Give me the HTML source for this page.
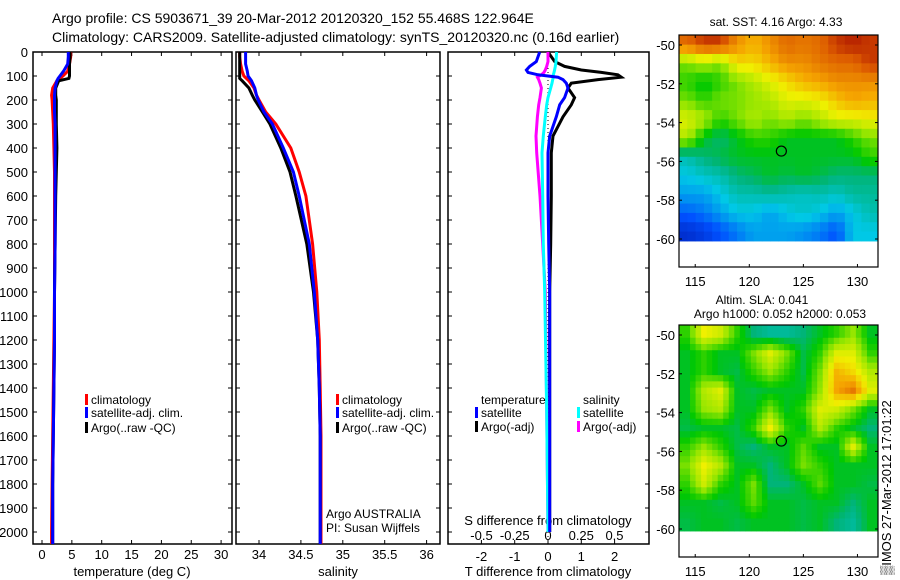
<!DOCTYPE html>
<html><head><meta charset="utf-8"><style>
body{margin:0;background:#fff;}
svg{display:block;font-family:"Liberation Sans",sans-serif;}
text{font-size:13px;fill:#000;}
</style></head><body>
<svg id="fig" width="900" height="580" viewBox="0 0 900 580" xmlns="http://www.w3.org/2000/svg">
<rect width="900" height="580" fill="#fff"/>
<text x="52" y="23" style="font-size:14px">Argo profile: CS 5903671_39 20-Mar-2012 20120320_152 55.468S 122.964E</text>
<text x="52" y="42" style="font-size:14px">Climatology: CARS2009. Satellite-adjusted climatology: synTS_20120320.nc (0.16d earlier)</text>
<g id="p1"></g>
<g id="p2"></g>
<g id="p3"></g>
<g id="m1"></g>
<g id="m2"></g>
<text transform="translate(891,575) rotate(-90)" style="font-size:13px">▒IMOS 27-Mar-2012 17:01:22</text>
</svg>
<script>
// ---- data ----
const depths=[0,20,50,80,100,110,120,150,180,200,250,300,400,500,600,800,1000,1200,1400,1600,1800,2000,2050];
const tClim=[4.8,4.8,4.6,4.3,3.5,3.0,2.5,1.8,1.6,1.7,1.8,1.9,2.0,2.1,2.1,2.1,2.1,2.0,1.9,1.8,1.7,1.6,1.6];
const tSat=[4.4,4.4,4.3,3.6,3.0,2.7,2.5,2.2,2.1,2.1,2.1,2.2,2.2,2.2,2.2,2.2,2.1,2.1,2.0,1.9,1.8,1.8,1.8];
const tArgo=[4.7,4.7,4.6,4.6,4.6,4.5,2.8,2.3,2.3,2.4,2.4,2.4,2.5,2.4,2.3,2.2,2.1,2.1,2.0,1.9,1.8,1.8,1.8];
const sClim=[33.77,33.77,33.78,33.8,33.82,33.85,33.88,33.94,33.97,34.0,34.08,34.2,34.38,34.48,34.56,34.64,34.69,34.72,34.73,34.74,34.74,34.74,34.74];
const sSat=[33.84,33.84,33.84,33.86,33.87,33.89,33.91,33.95,33.97,33.99,34.06,34.16,34.29,34.41,34.48,34.6,34.66,34.7,34.72,34.73,34.73,34.73,34.73];
const sArgo=[33.77,33.77,33.77,33.77,33.77,33.77,33.8,33.88,33.92,33.95,34.04,34.13,34.26,34.37,34.44,34.57,34.65,34.7,34.72,34.73,34.73,34.73,34.73];
const diffDepths=[0,40,60,75,85,95,105,115,130,150,190,220,270,350,420,600,800,1000,1500,2000];
const dTArgo=[0,0.2,0.5,1.0,1.6,2.1,2.2,1.5,0.7,0.6,0.8,0.7,0.45,0.15,0.1,0.1,0.08,0.05,0.05,0.05];
const dTSat=[-0.25,-0.35,-0.55,-0.65,-0.6,-0.3,0.3,0.45,0.55,0.6,0.5,0.35,0.25,0.05,0,0,0.02,0.05,0.05,0.05];
const dSSat=[0.065,0.06,0.055,0.05,0.045,0.04,0.04,0.035,0.03,0.02,0.0,-0.01,-0.02,-0.035,-0.045,-0.04,-0.035,-0.025,-0.01,0.0];
const dSArgo=[0,0,-0.01,-0.02,-0.03,-0.05,-0.08,-0.07,-0.06,-0.05,-0.06,-0.07,-0.08,-0.09,-0.085,-0.06,-0.04,-0.02,-0.01,0];
const depthTicks=[0,100,200,300,400,500,600,700,800,900,1000,1100,1200,1300,1400,1500,1600,1700,1800,1900,2000];
const tTicks=[0,5,10,15,20,25,30];
const sTicks=[34,34.5,35,35.5,36];
const sTickLabels=["34","34.5","35","35.5","36"];
const dTTicks=[-2,-1,0,1,2];
const dSTicks=[-0.5,-0.25,0,0.25,0.5];
const dSTickLabels=["-0.5","-0.25","0","0.25","0.5"];
const lonTicks=[115,120,125,130];
const latTicks=[-50,-52,-54,-56,-58,-60];
const sstGrid=[
[0.9,0.95,0.95,0.85,0.8,0.85,0.9,0.88,0.9,0.95,0.97,0.95],
[0.6,0.65,0.6,0.75,0.75,0.8,0.85,0.85,0.88,0.9,0.9,0.95],
[0.55,0.5,0.55,0.6,0.65,0.7,0.75,0.8,0.82,0.85,0.85,0.85],
[0.6,0.55,0.6,0.6,0.62,0.65,0.7,0.7,0.72,0.78,0.82,0.8],
[0.7,0.65,0.55,0.6,0.65,0.6,0.65,0.6,0.65,0.7,0.7,0.72],
[0.65,0.5,0.45,0.5,0.55,0.55,0.5,0.5,0.5,0.5,0.55,0.6],
[0.4,0.45,0.48,0.5,0.5,0.5,0.5,0.5,0.5,0.5,0.5,0.55],
[0.35,0.38,0.4,0.45,0.47,0.5,0.48,0.5,0.48,0.45,0.45,0.45],
[0.3,0.3,0.35,0.4,0.4,0.42,0.4,0.38,0.4,0.38,0.42,0.42],
[0.22,0.25,0.3,0.35,0.35,0.3,0.35,0.38,0.35,0.3,0.35,0.4],
[0.12,0.15,0.2,0.25,0.3,0.3,0.3,0.28,0.25,0.2,0.35,0.35]];
const slaGrid=[
[0.55,0.72,0.68,0.55,0.45,0.42,0.42,0.45,0.5,0.55,0.62,0.5],
[0.5,0.55,0.5,0.5,0.6,0.7,0.6,0.48,0.55,0.7,0.7,0.55],
[0.5,0.55,0.5,0.48,0.55,0.62,0.55,0.48,0.6,0.8,0.75,0.65],
[0.5,0.65,0.7,0.5,0.48,0.5,0.5,0.5,0.62,0.82,0.88,0.7],
[0.5,0.62,0.65,0.5,0.5,0.6,0.5,0.55,0.7,0.68,0.6,0.5],
[0.48,0.5,0.5,0.48,0.55,0.72,0.55,0.5,0.65,0.55,0.5,0.45],
[0.55,0.62,0.55,0.48,0.45,0.5,0.5,0.58,0.5,0.5,0.7,0.5],
[0.6,0.72,0.65,0.5,0.5,0.45,0.5,0.6,0.55,0.5,0.5,0.5],
[0.55,0.68,0.55,0.5,0.6,0.45,0.45,0.5,0.58,0.5,0.5,0.48],
[0.5,0.5,0.48,0.5,0.58,0.5,0.5,0.48,0.5,0.5,0.45,0.5],
[0.48,0.5,0.5,0.48,0.5,0.5,0.5,0.48,0.5,0.45,0.42,0.5]];
const argoLon=122.964, argoLat=-55.468;

const NS="http://www.w3.org/2000/svg";
function el(parent,tag,attrs,txt){const e=document.createElementNS(NS,tag);for(const k in attrs)e.setAttribute(k,attrs[k]);if(txt!==undefined)e.textContent=txt;parent.appendChild(e);return e;}
const yD=d=>52+0.24*d;
const xT=t=>42+5.97*t;
const xS=s=>259+83.8*(s-34);
const xdT=t=>548+33.3*t;
const xdS=s=>548+133*s;
const TOP=52,BOT=544;

function frame(g,x0,x1,name){
  const r=el(g,'rect',{x:x0,y:TOP,width:x1-x0,height:BOT-TOP,fill:'none',stroke:'#000','stroke-width':1.5});
  
  depthTicks.forEach(d=>{el(g,'line',{x1:x0,x2:x0+4,y1:yD(d),y2:yD(d),stroke:'#000'});el(g,'line',{x1:x1-4,x2:x1,y1:yD(d),y2:yD(d),stroke:'#000'});});
}
function line(g,xs,ys,xf,color,name,w){
  const p=xs.map((v,i)=>xf(v).toFixed(1)+','+yD(ys[i]).toFixed(1)).join(' ');
  const e=el(g,'polyline',{points:p,fill:'none',stroke:color,'stroke-width':w||3});
  
}
function legend(g,x,y,color,label,name){
  el(g,'rect',{x:x-6,y:y-10,width:3,height:11,fill:color});
  const t=el(g,'text',{x:x,y:y,style:'font-size:12px'},label);
  
}
// Panel 1
const p1=document.getElementById('p1');
frame(p1,33,232,'temperature-panel');
depthTicks.forEach(d=>{const t=el(p1,'text',{x:28,y:yD(d)+5,'text-anchor':'end'},String(d));});
tTicks.forEach(v=>{el(p1,'line',{x1:xT(v),x2:xT(v),y1:TOP,y2:TOP+4,stroke:'#000'});el(p1,'line',{x1:xT(v),x2:xT(v),y1:BOT-4,y2:BOT,stroke:'#000'});const t=el(p1,'text',{x:xT(v),y:559,'text-anchor':'middle'},String(v));});
el(p1,'text',{x:132,y:576,'text-anchor':'middle',},'temperature (deg C)');
line(p1,tClim,depths,xT,'#f00','temperature-climatology-line');
line(p1,tArgo,depths,xT,'#000','temperature-argo-line');
line(p1,tSat,depths,xT,'#00f','temperature-satellite-line');
legend(p1,91,404,'#f00','climatology','legend-climatology');
legend(p1,91,417,'#00f','satellite-adj. clim.','legend-satellite-adj');
legend(p1,91,432,'#000','Argo(..raw -QC)','legend-argo');
// Panel 2
const p2=document.getElementById('p2');
frame(p2,236,440,'salinity-panel');
sTicks.forEach((v,i)=>{el(p2,'line',{x1:xS(v),x2:xS(v),y1:TOP,y2:TOP+4,stroke:'#000'});el(p2,'line',{x1:xS(v),x2:xS(v),y1:BOT-4,y2:BOT,stroke:'#000'});const t=el(p2,'text',{x:xS(v),y:559,'text-anchor':'middle'},sTickLabels[i]);});
el(p2,'text',{x:338,y:576,'text-anchor':'middle',},'salinity');
line(p2,sClim,depths,xS,'#f00','salinity-climatology-line');
line(p2,sArgo,depths,xS,'#000','salinity-argo-line');
line(p2,sSat,depths,xS,'#00f','salinity-satellite-line');
legend(p2,342,404,'#f00','climatology','legend-climatology-2');
legend(p2,342,417,'#00f','satellite-adj. clim.','legend-satellite-adj-2');
legend(p2,342,432,'#000','Argo(..raw -QC)','legend-argo-2');
el(p2,'text',{x:326,y:518,style:'font-size:12px',},'Argo AUSTRALIA');
el(p2,'text',{x:326,y:532,style:'font-size:12px',},'PI: Susan Wijffels');
// Panel 3
const p3=document.getElementById('p3');
frame(p3,448,649,'difference-panel');
dTTicks.forEach(v=>{el(p3,'line',{x1:xdT(v),x2:xdT(v),y1:TOP,y2:TOP+4,stroke:'#000'});el(p3,'line',{x1:xdT(v),x2:xdT(v),y1:BOT-4,y2:BOT,stroke:'#000'});const t=el(p3,'text',{x:xdT(v),y:561,'text-anchor':'middle'},String(v));});
dSTicks.forEach((v,i)=>{const t=el(p3,'text',{x:xdS(v),y:540,'text-anchor':'middle'},dSTickLabels[i]);});
el(p3,'text',{x:548,y:525,'text-anchor':'middle',},'S difference from climatology');
el(p3,'text',{x:548,y:576,'text-anchor':'middle',},'T difference from climatology');
el(p3,'line',{x1:548,x2:548,y1:TOP,y2:BOT,stroke:'#000','stroke-dasharray':'1,3'});
line(p3,dTArgo,diffDepths,xdT,'#000','t-diff-argo-line');
line(p3,dSArgo,diffDepths,xdS,'#f0f','s-diff-argo-line');
line(p3,dSSat,diffDepths,xdS,'#0ff','s-diff-satellite-line');
line(p3,dTSat,diffDepths,xdT,'#00f','t-diff-satellite-line');
el(p3,'text',{x:481,y:404,style:'font-size:12px',},'temperature');
el(p3,'text',{x:583,y:404,style:'font-size:12px',},'salinity');
legend(p3,481,417,'#00f','satellite','legend-t-satellite');
legend(p3,481,431,'#000','Argo(-adj)','legend-t-argo');
legend(p3,583,417,'#0ff','satellite','legend-s-satellite');
legend(p3,583,431,'#f0f','Argo(-adj)','legend-s-argo');
// Maps
const cstops=[[0,[0,0,140]],[0.2,[0,80,255]],[0.35,[0,200,230]],[0.45,[0,180,120]],[0.52,[0,200,0]],[0.62,[150,230,0]],[0.72,[240,240,0]],[0.82,[245,165,0]],[0.92,[220,90,0]],[1,[160,0,0]]];
function cmap(v){for(let i=1;i<cstops.length;i++){if(v<=cstops[i][0]){const a=cstops[i-1],b=cstops[i],f=(v-a[0])/(b[0]-a[0]);return 'rgb('+a[1].map((c,k)=>Math.round(c+f*(b[1][k]-c))).join(',')+')';}}return 'rgb(160,0,0)';}
function sample(grid,fr,fc){
  const nr=grid.length,nc=grid[0].length;
  const r=Math.min(Math.max(fr-0.5,0),nr-1),c=Math.min(Math.max(fc-0.5,0),nc-1);
  const r0=Math.floor(r),c0=Math.floor(c),r1=Math.min(r0+1,nr-1),c1=Math.min(c0+1,nc-1);
  const a=r-r0,b=c-c0;
  return grid[r0][c0]*(1-a)*(1-b)+grid[r0][c1]*(1-a)*b+grid[r1][c0]*a*(1-b)+grid[r1][c1]*a*b;
}
function map(id,top,grid,name,sub){
  const g=document.getElementById(id);
  const L=679,R=878,B=top+232;
  const xL=lon=>L+(lon-113.5)*(R-L)/18.4;
  const yL=lat=>top+10+(-50-lat)*19.4;
  const lat0=-49.5,lat1=-60.1,lon0=113.5,lon1=131.9;
  const nr=grid.length*sub,nc=grid[0].length*sub;
  for(let r=0;r<nr;r++)for(let c=0;c<nc;c++){
    const v=sample(grid,(r+0.5)/sub,(c+0.5)/sub);
    const la=lat0+(lat1-lat0)*r/nr, lb=lat0+(lat1-lat0)*(r+1)/nr;
    const oa=lon0+(lon1-lon0)*c/nc, ob=lon0+(lon1-lon0)*(c+1)/nc;
    const cell=el(g,'rect',{x:xL(oa),y:yL(la),width:xL(ob)-xL(oa)+0.5,height:yL(lb)-yL(la)+0.5,fill:cmap(v)});
    
    
  }
  el(g,'rect',{x:L,y:top,width:R-L,height:B-top,fill:'none',stroke:'#000','stroke-width':1.2});
  const c=el(g,'circle',{cx:xL(argoLon),cy:yL(argoLat),r:5,fill:'none',stroke:'#000','stroke-width':1.2});
  
  latTicks.forEach(v=>{el(g,'line',{x1:L,x2:L+3,y1:yL(v),y2:yL(v),stroke:'#000'});el(g,'line',{x1:R-3,x2:R,y1:yL(v),y2:yL(v),stroke:'#000'});const t=el(g,'text',{x:675,y:yL(v)+5,'text-anchor':'end'},String(v));});
  lonTicks.forEach(v=>{el(g,'line',{x1:xL(v),x2:xL(v),y1:top,y2:top+3,stroke:'#000'});el(g,'line',{x1:xL(v),x2:xL(v),y1:B-3,y2:B,stroke:'#000'});const t=el(g,'text',{x:xL(v),y:B+19,'text-anchor':'middle'},String(v));});
}
map('m1',35,sstGrid,'sst-map',2);
map('m2',325,slaGrid,'sla-map',3);
const m1=document.getElementById('m1'),m2=document.getElementById('m2');
el(m1,'text',{x:776,y:26,'text-anchor':'middle',style:'font-size:12px',},'sat. SST: 4.16 Argo: 4.33');
el(m2,'text',{x:762,y:304,'text-anchor':'middle',style:'font-size:12px',},'Altim. SLA: 0.041');
el(m2,'text',{x:780,y:318,'text-anchor':'middle',style:'font-size:12px',},'Argo h1000: 0.052 h2000: 0.053');
</script>
</body></html>
